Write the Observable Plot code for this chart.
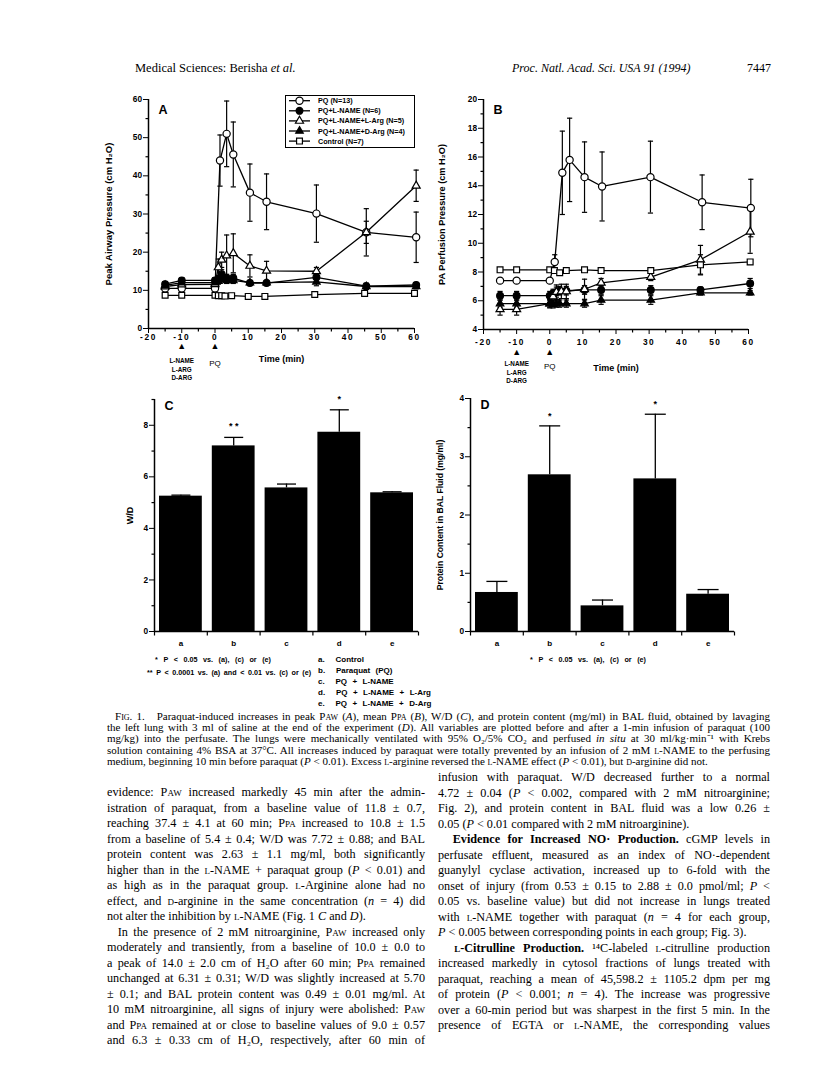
<!DOCTYPE html>
<html><head><meta charset="utf-8">
<script src="https://cdn.jsdelivr.net/npm/d3@7"></script>
<script src="https://cdn.jsdelivr.net/npm/@observablehq/plot@0.6"></script>
<style>
body{margin:0;background:#fff;}
#page{position:relative;width:816px;height:1078px;overflow:hidden;background:#fff;color:#000;font-family:"Liberation Serif","Times New Roman",serif;}
.abs{position:absolute;}
.sans{font-family:"Liberation Sans",Arial,sans-serif;font-weight:bold;}
.sc{font-variant:small-caps;}
.j{display:block;text-align:justify;text-align-last:justify;white-space:normal;}
.l{display:block;text-align:left;white-space:nowrap;}
g[aria-label="x-axis"] text, g[aria-label="x-axis tick label"] text{letter-spacing:1.6px;}
.fn{font-size:7.2px;line-height:11px;white-space:nowrap;}
.fl{font-size:8px;word-spacing:3.2px;line-height:11px;white-space:nowrap;}
</style>
</head><body><div id="page">

<div class="abs" style="left:135px;top:61px;font-size:12.5px;">Medical Sciences: Berisha <i>et al.</i></div>
<div class="abs" style="left:512px;top:61px;font-size:12px;font-style:italic;">Proc. Natl. Acad. Sci. USA 91 (1994)</div>
<div class="abs" style="left:747px;top:61px;font-size:12px;">7447</div>

<div id="pA" class="abs" style="left:90px;top:85px;width:340px;"></div>
<div id="legA" class="abs" style="left:285px;top:95px;"></div>
<div id="pB" class="abs" style="left:425px;top:85px;width:340px;"></div>
<div id="pC" class="abs" style="left:95px;top:390px;width:340px;"></div>
<div id="pD" class="abs" style="left:420px;top:390px;width:330px;"></div>

<div class="abs sans fn" style="left:155px;top:654px;word-spacing:3.6px;">* P &lt; 0.05 vs. (a), (c) or (e)</div>
<div class="abs sans fn" style="left:147px;top:667px;word-spacing:1.6px;">** P &lt; 0.0001 vs. (a) and &lt; 0.01 vs. (c) or (e)</div>
<div id="catLegend" class="abs sans fl" style="left:318px;top:654px;"></div>
<div class="abs sans fn" style="left:530px;top:654px;word-spacing:3.6px;">* P &lt; 0.05 vs. (a), (c) or (e)</div>

<div class="abs" style="left:107px;top:711px;width:663px;font-size:11px;line-height:11.2px;">
<span class="j">&nbsp;&nbsp;<span class="sc">Fig.</span> 1.&nbsp;&nbsp; Paraquat-induced increases in peak P<span class="sc">aw</span> (<i>A</i>), mean P<span class="sc">pa</span> (<i>B</i>), W/D (<i>C</i>), and protein content (mg/ml) in BAL fluid, obtained by lavaging</span>
<span class="j">the left lung with 3 ml of saline at the end of the experiment (<i>D</i>). All variables are plotted before and after a 1-min infusion of paraquat (100</span>
<span class="j">mg/kg) into the perfusate. The lungs were mechanically ventilated with 95% O₂/5% CO₂ and perfused <i>in situ</i> at 30 ml/kg·min⁻¹ with Krebs</span>
<span class="j">solution containing 4% BSA at 37°C. All increases induced by paraquat were totally prevented by an infusion of 2 mM <span class="sc">l</span>-NAME to the perfusing</span>
<span class="l">medium, beginning 10 min before paraquat (<i>P</i> &lt; 0.01). Excess <span class="sc">l</span>-arginine reversed the <span class="sc">l</span>-NAME effect (<i>P</i> &lt; 0.01), but <span class="sc">d</span>-arginine did not.</span>
</div>

<div class="abs" style="left:107px;top:785px;width:318px;font-size:12.2px;line-height:15.5px;">
<span class="j">evidence: P<span class="sc">aw</span> increased markedly 45 min after the admin-</span>
<span class="j">istration of paraquat, from a baseline value of 11.8 ± 0.7,</span>
<span class="j">reaching 37.4 ± 4.1 at 60 min; P<span class="sc">pa</span> increased to 10.8 ± 1.5</span>
<span class="j">from a baseline of 5.4 ± 0.4; W/D was 7.72 ± 0.88; and BAL</span>
<span class="j">protein content was 2.63 ± 1.1 mg/ml, both significantly</span>
<span class="j">higher than in the <span class="sc">l</span>-NAME + paraquat group (<i>P</i> &lt; 0.01) and</span>
<span class="j">as high as in the paraquat group. <span class="sc">l</span>-Arginine alone had no</span>
<span class="j">effect, and <span class="sc">d</span>-arginine in the same concentration (<i>n</i> = 4) did</span>
<span class="l">not alter the inhibition by <span class="sc">l</span>-NAME (Fig. 1 <i>C</i> and <i>D</i>).</span>
<span class="j">&nbsp;&nbsp;In the presence of 2 mM nitroarginine, P<span class="sc">aw</span> increased only</span>
<span class="j">moderately and transiently, from a baseline of 10.0 ± 0.0 to</span>
<span class="j">a peak of 14.0 ± 2.0 cm of H₂O after 60 min; P<span class="sc">pa</span> remained</span>
<span class="j">unchanged at 6.31 ± 0.31; W/D was slightly increased at 5.70</span>
<span class="j">± 0.1; and BAL protein content was 0.49 ± 0.01 mg/ml. At</span>
<span class="j">10 mM nitroarginine, all signs of injury were abolished: P<span class="sc">aw</span></span>
<span class="j">and P<span class="sc">pa</span> remained at or close to baseline values of 9.0 ± 0.57</span>
<span class="j">and 6.3 ± 0.33 cm of H₂O, respectively, after 60 min of</span>
</div>

<div class="abs" style="left:438px;top:770px;width:332px;font-size:12.2px;line-height:15.5px;">
<span class="j">infusion with paraquat. W/D decreased further to a normal</span>
<span class="j">4.72 ± 0.04 (<i>P</i> &lt; 0.002, compared with 2 mM nitroarginine;</span>
<span class="j">Fig. 2), and protein content in BAL fluid was a low 0.26 ±</span>
<span class="l">0.05 (<i>P</i> &lt; 0.01 compared with 2 mM nitroarginine).</span>
<span class="j">&nbsp;&nbsp;<b>Evidence for Increased NO· Production.</b> cGMP levels in</span>
<span class="j">perfusate effluent, measured as an index of NO·-dependent</span>
<span class="j">guanylyl cyclase activation, increased up to 6-fold with the</span>
<span class="j">onset of injury (from 0.53 ± 0.15 to 2.88 ± 0.0 pmol/ml; <i>P</i> &lt;</span>
<span class="j">0.05 vs. baseline value) but did not increase in lungs treated</span>
<span class="j">with <span class="sc">l</span>-NAME together with paraquat (<i>n</i> = 4 for each group,</span>
<span class="l"><i>P</i> &lt; 0.005 between corresponding points in each group; Fig. 3).</span>
<span class="j">&nbsp;&nbsp;<b><span class="sc">l</span>-Citrulline Production.</b> ¹⁴C-labeled <span class="sc">l</span>-citrulline production</span>
<span class="j">increased markedly in cytosol fractions of lungs treated with</span>
<span class="j">paraquat, reaching a mean of 45,598.2 ± 1105.2 dpm per mg</span>
<span class="j">of protein (<i>P</i> &lt; 0.001; <i>n</i> = 4). The increase was progressive</span>
<span class="j">over a 60-min period but was sharpest in the first 5 min. In the</span>
<span class="j">presence of EGTA or <span class="sc">l</span>-NAME, the corresponding values</span>
</div>

</div>
<script>
// ---------- DATA ----------
const seriesNames = ["PQ (N=13)", "PQ+L-NAME (N=6)", "PQ+L-NAME+L-Arg (N=5)", "PQ+L-NAME+D-Arg (N=4)", "Control (N=7)"];

// Panel A: peak airway pressure (cm H2O)
const timeA_PQ   = [-15,-10,0,1.5,3.5,5.5,10.5,15.5,30.5,45.5,60.5];
const pawA_PQ    = [10.5,10.5,10.5,44.0,51.0,45.6,35.6,33.2,30.1,25.2,23.9];
const pawA_PQ_se = [0.6,0.6,0.6,6.7,8.6,8.5,7.5,7.3,7.5,6.2,6.6];
const timeA_LN   = [-15,-10,0,1,2,3.5,5.5,10.5,15.5,30.5,45.5,60.5];
const pawA_LN    = [11.6,12.6,12.6,13.0,14.2,13.2,13.2,11.9,11.9,13.4,11.1,11.4];
const pawA_LN_se = [0.7,0.7,0.7,0.8,1.2,1.0,1.0,0.6,0.6,1.1,0.8,0.6];
const timeA_LA   = [-15,-10,0,1,2,3.5,5.5,10.5,15.5,30.5,45.5,60.5];
const pawA_LA    = [11.0,11.5,11.6,16.0,18.0,19.1,19.7,16.4,15.1,15.0,25.2,37.4];
const pawA_LA_se = [0.7,0.7,0.7,2.2,2.0,5.4,5.1,2.9,2.5,1.0,2.9,4.1];
const timeA_DA   = [-15,-10,0,1,2,3.5,5.5,10.5,15.5,30.5,45.5,60.5];
const pawA_DA    = [11.3,12.0,12.0,12.4,13.2,12.6,12.6,12.0,12.0,12.2,11.0,11.0];
const pawA_DA_se = [0.6,0.6,0.6,0.8,0.9,0.8,0.8,0.6,0.6,1.0,0.7,0.6];
const timeA_CT   = [-15,-10,0,1,2,3,5,10,15,30,45,60];
const pawA_CT    = [8.7,8.7,8.7,8.6,8.6,8.5,8.6,8.4,8.4,8.9,9.2,9.2];
const pawA_CT_se = [0,0,0,0,0,0,0,0,0,0,0,0];

// Panel B: PA perfusion pressure (cm H2O)
const timeB_PQ   = [-15,-10,0,1.5,3.8,6,10.5,15.8,30.4,46,60.7];
const ppaB_PQ    = [7.4,7.4,7.4,8.7,14.9,15.8,14.6,13.95,14.6,12.85,12.45];
const ppaB_PQ_se = [0.15,0.15,0.15,0.5,2.9,2.9,2.45,2.4,2.5,1.9,2.0];
const timeB_LN   = [-15,-10,0,1,2,3,5,10.5,15.5,30.5,45.5,60.5];
const ppaB_LN    = [6.35,6.35,6.35,6.5,6.6,6.7,6.7,6.75,6.75,6.75,6.75,7.2];
const ppaB_LN_se = [0.3,0.3,0.3,0.3,0.35,0.3,0.3,0.3,0.3,0.3,0.2,0.35];
const timeB_LA   = [-15,-10,0,1,2,3.5,5,10.5,15.5,30.5,45.5,60.5];
const ppaB_LA    = [5.4,5.4,5.8,6.3,6.6,6.65,6.65,6.8,7.25,7.65,8.85,10.8];
const ppaB_LA_se = [0.4,0.4,0.3,0.4,0.5,0.5,0.5,0.7,0.3,0.25,1.0,1.5];
const timeB_DA   = [-15,-10,0,1,2,3,5,10.5,15.5,30.5,45.5,60.5];
const ppaB_DA    = [5.8,5.8,5.8,5.75,5.8,5.8,5.8,5.8,6.05,6.05,6.55,6.55];
const ppaB_DA_se = [0.25,0.25,0.25,0.25,0.25,0.25,0.25,0.25,0.3,0.3,0.15,0.15];
const timeB_CT   = [-15,-10,0,1.4,3,5,10.5,15.5,30.5,45.5,60.5];
const ppaB_CT    = [8.15,8.15,8.15,8.1,7.95,8.1,8.15,8.1,8.1,8.5,8.7];
const ppaB_CT_se = [0.15,0.15,0.15,0.15,0.1,0.15,0.15,0.15,0.15,0.7,0.15];

// Panels C and D: bars
const barCats   = ["a","b","c","d","e"];
const barGroups = ["Control","Paraquat (PQ)","PQ + L-NAME","PQ + L-NAME + L-Arg","PQ + L-NAME + D-Arg"];
const wdMean  = [5.25,7.20,5.57,7.73,5.38];
const wdSem   = [0.04,0.33,0.15,0.87,0.04];
const wdSig   = ["","* *","","*",""];
const balMean = [0.67,2.69,0.44,2.62,0.64];
const balSem  = [0.19,0.84,0.10,1.11,0.08];
const balSig  = ["","*","","*",""];

const xTicks = [-20,-10,0,10,20,30,40,50,60];
const xMinor = [-15,-5,5,15,25,35,45,55];
const treatTimes  = [-10, 0];
const treatLabels = ["L-NAME\nL-ARG\nD-ARG", "PQ"];

// ---------- STYLES (kept apart from data) ----------
const seriesStyle = [
  {symbol:"circle",   fill:"white", r:3.6},
  {symbol:"circle",   fill:"black", r:3.4},
  {symbol:"triangle", fill:"white", r:3.0},
  {symbol:"triangle", fill:"black", r:2.8},
  {symbol:"square",   fill:"white", r:3.3}
];
// horizontal cap for error bars
const capSym  = {draw(ctx, size){ const r = Math.sqrt(size/Math.PI); ctx.moveTo(-r,0); ctx.lineTo(r,0); }};
// short tick pointing down (x axis) / left (y axis)
const tickDown = {draw(ctx, size){ const r = Math.sqrt(size/Math.PI); ctx.moveTo(0,0); ctx.lineTo(0,r); }};
const tickLeft = {draw(ctx, size){ const r = Math.sqrt(size/Math.PI); ctx.moveTo(0,0); ctx.lineTo(-r,0); }};
const FONT = "font-family:'Liberation Sans',Arial,sans-serif;font-weight:bold;font-size:8.3px;background:transparent;overflow:visible;";

function buildRows(times, vals, ses){
  return times.map((tArr, k) => tArr.map((t, i) => ({series: seriesNames[k], k, t, v: vals[k][i], e: ses[k][i]}))).flat();
}
const rowsA = buildRows([timeA_PQ,timeA_LN,timeA_LA,timeA_DA,timeA_CT],[pawA_PQ,pawA_LN,pawA_LA,pawA_DA,pawA_CT],[pawA_PQ_se,pawA_LN_se,pawA_LA_se,pawA_DA_se,pawA_CT_se]);
const rowsB = buildRows([timeB_PQ,timeB_LN,timeB_LA,timeB_DA,timeB_CT],[ppaB_PQ,ppaB_LN,ppaB_LA,ppaB_DA,ppaB_CT],[ppaB_PQ_se,ppaB_LN_se,ppaB_LA_se,ppaB_DA_se,ppaB_CT_se]);
const treats = treatTimes.map((t,i)=>({t, label: treatLabels[i]}));

function linePanel(c){
  const rows = c.rows;
  const eb = rows.filter(d => d.e > 0);
  const y0 = c.yDomain[0];
  const marks = [
    Plot.dot(xMinor, {x: d => d, y: () => y0, symbol: tickDown, r: 3, fill: "none", stroke: "black", strokeWidth: 1.2}),
    Plot.dot(c.yMinor, {x: () => -20, y: d => d, symbol: tickLeft, r: 3, fill: "none", stroke: "black", strokeWidth: 1.2}),
    Plot.ruleY([y0], {strokeWidth: 1.5}),
    Plot.ruleX([-20], {strokeWidth: 1.5}),
    Plot.text([c.yLabel], {frameAnchor: "left", textAnchor: "middle", rotate: -90, dx: -c.yLabelOff, fontSize: c.yLabelSize}),
    Plot.text(["Time (min)"], {frameAnchor: "bottom", dy: c.timeDy, fontSize: 9}),
    Plot.text([c.letter], {frameAnchor: "top-left", dx: 10, dy: 6, fontSize: 12.5}),
    Plot.text(treats, {x: "t", text: () => "▲", frameAnchor: "bottom", dy: c.arrowDy, fontSize: 9}),
    Plot.text(treats.filter(d => d.t !== 0), {x: "t", text: "label", frameAnchor: "bottom", lineAnchor: "top", dy: c.treatDy, fontSize: 6.3, lineHeight: 1.4}),
    Plot.text(treats.filter(d => d.t === 0), {x: "t", text: "label", frameAnchor: "bottom", lineAnchor: "top", dy: c.treatDy + 4, fontSize: 8, fontWeight: "normal"}),
    Plot.line(rows, {x: "t", y: "v", z: "series", stroke: "black", strokeWidth: 1.3}),
    Plot.ruleX(eb, {x: "t", y1: d => d.v - d.e, y2: d => d.v + d.e, stroke: "black", strokeWidth: 1.2}),
    Plot.dot(eb, {x: "t", y: d => d.v + d.e, symbol: capSym, r: 2.6, fill: "none", stroke: "black", strokeWidth: 1.2}),
    Plot.dot(eb, {x: "t", y: d => d.v - d.e, symbol: capSym, r: 2.6, fill: "none", stroke: "black", strokeWidth: 1.2}),
  ];
  seriesStyle.forEach((s, k) => {
    marks.push(Plot.dot(rows.filter(d => d.k === k), {x: "t", y: "v", symbol: s.symbol, r: s.r, fill: s.fill, stroke: "black", strokeWidth: 1.2}));
  });
  return Plot.plot({
    width: 340, height: 305,
    marginLeft: 58, marginRight: c.mr, marginTop: 14, marginBottom: c.mb,
    x: {domain: [-20, 60], ticks: xTicks, tickSize: 5, tickPadding: c.xPad, tickFormat: d => String(d), label: null},
    y: {domain: c.yDomain, ticks: c.yTicks, tickSize: 5, tickPadding: 1.5, tickFormat: d => String(d), label: null},
    style: FONT,
    marks
  });
}

document.getElementById("pA").append(linePanel({
  rows: rowsA, yDomain: [0, 60], yTicks: d3.range(0, 61, 10), yMinor: d3.range(5, 60, 10),
  yLabel: "Peak Airway Pressure (cm H₂O)", yLabelOff: 40, yLabelSize: 9.5, letter: "A",
  xPad: 1, timeDy: 33, arrowDy: 20, treatDy: 28, mr: 16, mb: 62
}));
document.getElementById("pB").append(linePanel({
  rows: rowsB, yDomain: [4, 20], yTicks: d3.range(4, 21, 2), yMinor: d3.range(5, 20, 2),
  yLabel: "PA Perfusion Pressure (cm H₂O)", yLabelOff: 41, yLabelSize: 9.2, letter: "B",
  xPad: 5, timeDy: 41, arrowDy: 25.5, treatDy: 30, mr: 17, mb: 61
}));

// legend for panel A
(function(){
  const W = 130, H = 53;
  const svg = d3.create("svg").attr("width", W).attr("height", H).style("overflow","visible").style("display","block");
  svg.append("rect").attr("x",0.5).attr("y",0.5).attr("width",W-1).attr("height",H-1).attr("fill","white").attr("stroke","black").attr("stroke-width",1);
  const types = {circle: d3.symbolCircle, triangle: d3.symbolTriangle, square: d3.symbolSquare};
  seriesNames.forEach((name, k) => {
    const y = 5.7 + k * 10.1, s = seriesStyle[k];
    svg.append("line").attr("x1",4).attr("x2",25).attr("y1",y).attr("y2",y).attr("stroke","black").attr("stroke-width",1.3);
    svg.append("path").attr("d", d3.symbol(types[s.symbol], Math.PI*s.r*s.r)()).attr("transform",`translate(14.5,${y})`).attr("fill",s.fill).attr("stroke","black").attr("stroke-width",1.2);
    svg.append("text").attr("x",33).attr("y",y).attr("dy","0.35em").attr("font-family","'Liberation Sans',Arial,sans-serif").attr("font-weight","bold").attr("font-size",7.2).text(name);
  });
  document.getElementById("legA").append(svg.node());
})();

function barPanel(c){
  const rows = barCats.map((cat, i) => ({cat, i, v: c.mean[i], e: c.sem[i], sig: c.sig[i]}));
  const bounds = d3.range(0, barCats.length + 1);
  return Plot.plot({
    width: c.width, height: 265,
    marginLeft: c.ml, marginRight: c.mr, marginTop: c.mt, marginBottom: 24,
    x: {domain: [0, barCats.length], axis: null},
    y: {domain: c.yDomain, ticks: c.yTicks, tickSize: 5, tickPadding: 1.5, tickFormat: d => String(d), label: null},
    style: FONT,
    marks: [
      Plot.dot(bounds, {x: d => d, y: () => 0, symbol: tickDown, r: 4, fill: "none", stroke: "black", strokeWidth: 1.2}),
      Plot.dot(c.yMinor, {x: () => 0, y: d => d, symbol: tickLeft, r: 3, fill: "none", stroke: "black", strokeWidth: 1.2}),
      Plot.rectY(rows, {x1: "i", x2: d => d.i + 1, y: "v", insetLeft: 5, insetRight: 5, fill: "black"}),
      Plot.ruleX(rows, {x: d => d.i + 0.5, y1: "v", y2: d => d.v + d.e, stroke: "black", strokeWidth: 1.3}),
      Plot.dot(rows, {x: d => d.i + 0.5, y: d => d.v + d.e, symbol: capSym, r: c.cap, fill: "none", stroke: "black", strokeWidth: 1.3}),
      Plot.text(rows.filter(d => d.sig), {x: d => d.i + 0.5, y: d => d.v + d.e, text: "sig", dy: c.sigDy, fontSize: 9}),
      Plot.text(rows, {x: d => d.i + 0.5, text: "cat", frameAnchor: "bottom", dy: 14, fontSize: 8}),
      Plot.ruleY([0], {strokeWidth: 1.5}),
      Plot.ruleX([0], {strokeWidth: 1.5}),
      Plot.text([c.yLabel], {frameAnchor: "left", textAnchor: "middle", rotate: -90, dx: -c.yLabelOff, fontSize: c.yLabelSize}),
      Plot.text([c.letter], {frameAnchor: "top-left", dx: 10, dy: 2, fontSize: 12.5})
    ]
  });
}
document.getElementById("pC").append(barPanel({
  mean: wdMean, sem: wdSem, sig: wdSig, yDomain: [0, 9], yTicks: [0,2,4,6,8], yMinor: [1,3,5,7,9],
  yLabel: "W/D", yLabelOff: 24, yLabelSize: 9, letter: "C", width: 340, ml: 59, mr: 17, mt: 9, cap: 9.5, sigDy: -11
}));
document.getElementById("pD").append(barPanel({
  mean: balMean, sem: balSem, sig: balSig, yDomain: [0, 4], yTicks: [0,1,2,3,4], yMinor: [0.5,1.5,2.5,3.5],
  yLabel: "Protein Content in BAL Fluid (mg/ml)", yLabelOff: 30, yLabelSize: 8.6, letter: "D", width: 330, ml: 50, mr: 16, mt: 8, cap: 10.5, sigDy: -10
}));

document.getElementById("catLegend").innerHTML = barCats.map((c, i) => `<div>${c}.&nbsp; ${barGroups[i]}</div>`).join("");
</script>
</body></html>
